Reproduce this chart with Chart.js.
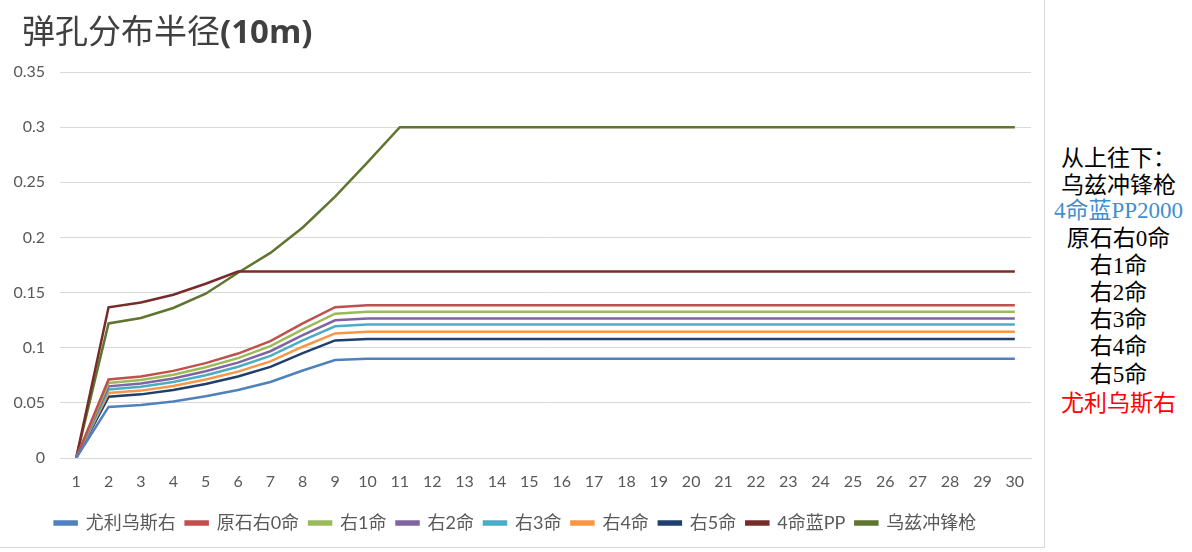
<!DOCTYPE html>
<html>
<head>
<meta charset="utf-8">
<script src="https://cdn.jsdelivr.net/npm/chart.js@4"></script>
<style>
  body { margin: 0; background: #fff; }
  #box { position: absolute; left: 0; top: 0; width: 1044px; height: 547px; border-right: 1px solid #d9d9d9; border-bottom: 1px solid #d9d9d9; }
  #title { position: absolute; left: 22px; top: 5px; font-size: 33px; color: #404040; font-family: "Noto Sans CJK SC", sans-serif; white-space: nowrap; }
  #title b { font-family: "Open Sans", "Liberation Sans", sans-serif; font-weight: 700; }
  #note { position: absolute; left: 1045px; top: 143px; width: 147px; text-align: center; font-size: 23px; line-height: 27.2px; color: #000; font-family: "Noto Sans CJK SC", sans-serif; }
  #note .serif { font-family: "Liberation Serif", "DejaVu Serif", "Noto Sans CJK SC", serif; }
</style>
</head>
<body>
<div id="box">
  <canvas id="myChart"></canvas>
  <div id="title">弹孔分布半径<b>(10m)</b></div>
</div>
<div id="note">
  <div>从上往下：</div>
  <div>乌兹冲锋枪</div>
  <div class="serif" style="color:#3f8fd2">4命蓝PP2000</div>
  <div class="serif">原石右0命</div>
  <div class="serif">右1命</div>
  <div class="serif">右2命</div>
  <div class="serif">右3命</div>
  <div class="serif">右4命</div>
  <div class="serif">右5命</div>
  <div style="color:#ff0000">尤利乌斯右</div>
</div>
<script>
// x categories 1..30
var labels = [1,2,3,4,5,6,7,8,9,10,11,12,13,14,15,16,17,18,19,20,21,22,23,24,25,26,27,28,29,30];
var yTicks = [0, 0.05, 0.1, 0.15, 0.2, 0.25, 0.3, 0.35];

var names = ['尤利乌斯右', '原石右0命', '右1命', '右2命', '右3命', '右4命', '右5命', '4命蓝PP', '乌兹冲锋枪'];
var colors = ['#4f81bd', '#c0504d', '#9bbb59', '#8064a2', '#4bacc6', '#f79646', '#1f3f6e', '#772c2a', '#5f7530'];

var julius = [0,0.0463,0.0481,0.0513,0.0559,0.0616,0.0689,0.0793,0.0888,0.09,0.09,0.09,0.09,0.09,0.09,0.09,0.09,0.09,0.09,0.09,0.09,0.09,0.09,0.09,0.09,0.09,0.09,0.09,0.09,0.09];
var right0 = [0,0.0712,0.074,0.079,0.086,0.0947,0.106,0.122,0.1367,0.1385,0.1385,0.1385,0.1385,0.1385,0.1385,0.1385,0.1385,0.1385,0.1385,0.1385,0.1385,0.1385,0.1385,0.1385,0.1385,0.1385,0.1385,0.1385,0.1385,0.1385];
var right1 = [0,0.0681,0.0708,0.0755,0.0823,0.0906,0.1014,0.1167,0.1308,0.1325,0.1325,0.1325,0.1325,0.1325,0.1325,0.1325,0.1325,0.1325,0.1325,0.1325,0.1325,0.1325,0.1325,0.1325,0.1325,0.1325,0.1325,0.1325,0.1325,0.1325];
var right2 = [0,0.065,0.0676,0.0721,0.0786,0.0865,0.0968,0.1114,0.1249,0.1265,0.1265,0.1265,0.1265,0.1265,0.1265,0.1265,0.1265,0.1265,0.1265,0.1265,0.1265,0.1265,0.1265,0.1265,0.1265,0.1265,0.1265,0.1265,0.1265,0.1265];
var right3 = [0,0.0622,0.0646,0.069,0.0751,0.0828,0.0926,0.1066,0.1194,0.121,0.121,0.121,0.121,0.121,0.121,0.121,0.121,0.121,0.121,0.121,0.121,0.121,0.121,0.121,0.121,0.121,0.121,0.121,0.121,0.121];
var right4 = [0,0.0589,0.0611,0.0653,0.0711,0.0783,0.0876,0.1009,0.113,0.1145,0.1145,0.1145,0.1145,0.1145,0.1145,0.1145,0.1145,0.1145,0.1145,0.1145,0.1145,0.1145,0.1145,0.1145,0.1145,0.1145,0.1145,0.1145,0.1145,0.1145];
var right5 = [0,0.0555,0.0577,0.0616,0.0671,0.0739,0.0826,0.0951,0.1066,0.108,0.108,0.108,0.108,0.108,0.108,0.108,0.108,0.108,0.108,0.108,0.108,0.108,0.108,0.108,0.108,0.108,0.108,0.108,0.108,0.108];
var pp2000 = [0,0.1367,0.141,0.148,0.158,0.169,0.169,0.169,0.169,0.169,0.169,0.169,0.169,0.169,0.169,0.169,0.169,0.169,0.169,0.169,0.169,0.169,0.169,0.169,0.169,0.169,0.169,0.169,0.169,0.169];
var uzi = [0,0.122,0.127,0.136,0.149,0.168,0.186,0.209,0.237,0.268,0.3,0.3,0.3,0.3,0.3,0.3,0.3,0.3,0.3,0.3,0.3,0.3,0.3,0.3,0.3,0.3,0.3,0.3,0.3,0.3];

var series = [julius, right0, right1, right2, right3, right4, right5, pp2000, uzi];

function main(){
    var font = "Lato, 'Noto Sans CJK SC', sans-serif";
    var datasets = series.map(function(s, i){
        return {
            label: names[i],
            data: s,
            borderColor: colors[i],
            backgroundColor: colors[i],
            borderWidth: 2.5,
            pointRadius: 0,
            tension: 0,
            fill: false
        };
    });
    var ctx = document.getElementById('myChart').getContext('2d');
    new Chart(ctx, {
        type: 'line',
        data: { labels: labels, datasets: datasets },
        options: {
            responsive: true,
            maintainAspectRatio: false,
            animation: false,
            layout: { padding: { top: 72, right: 13, bottom: 5, left: 0 } },
            plugins: {
                legend: {
                    position: 'bottom',
                    labels: { boxWidth: 22, boxHeight: 3, padding: 10, color: '#595959', font: { family: font, size: 18 } }
                },
                tooltip: { enabled: false }
            },
            scales: {
                x: {
                    offset: true,
                    grid: { display: false, drawTicks: false },
                    border: { display: true, color: '#d9d9d9' },
                    ticks: { color: '#595959', padding: 14, maxRotation: 0, autoSkip: false, font: { family: font, size: 16 } },
                    afterFit: function(scale){ scale.height = 46; }
                },
                y: {
                    min: 0,
                    max: 0.35,
                    afterBuildTicks: function(axis){ axis.ticks = yTicks.map(function(v){ return { value: v }; }); },
                    afterFit: function(scale){ scale.width = 60; },
                    grid: { color: '#d9d9d9', drawTicks: false },
                    border: { display: false },
                    ticks: {
                        color: '#595959', padding: 15, font: { family: font, size: 16 },
                        callback: function(v){ return String(Number(v.toFixed(2))); }
                    }
                }
            }
        }
    });
}

document.addEventListener("DOMContentLoaded", function(event) {
    main();
});
</script>
</body>
</html>
